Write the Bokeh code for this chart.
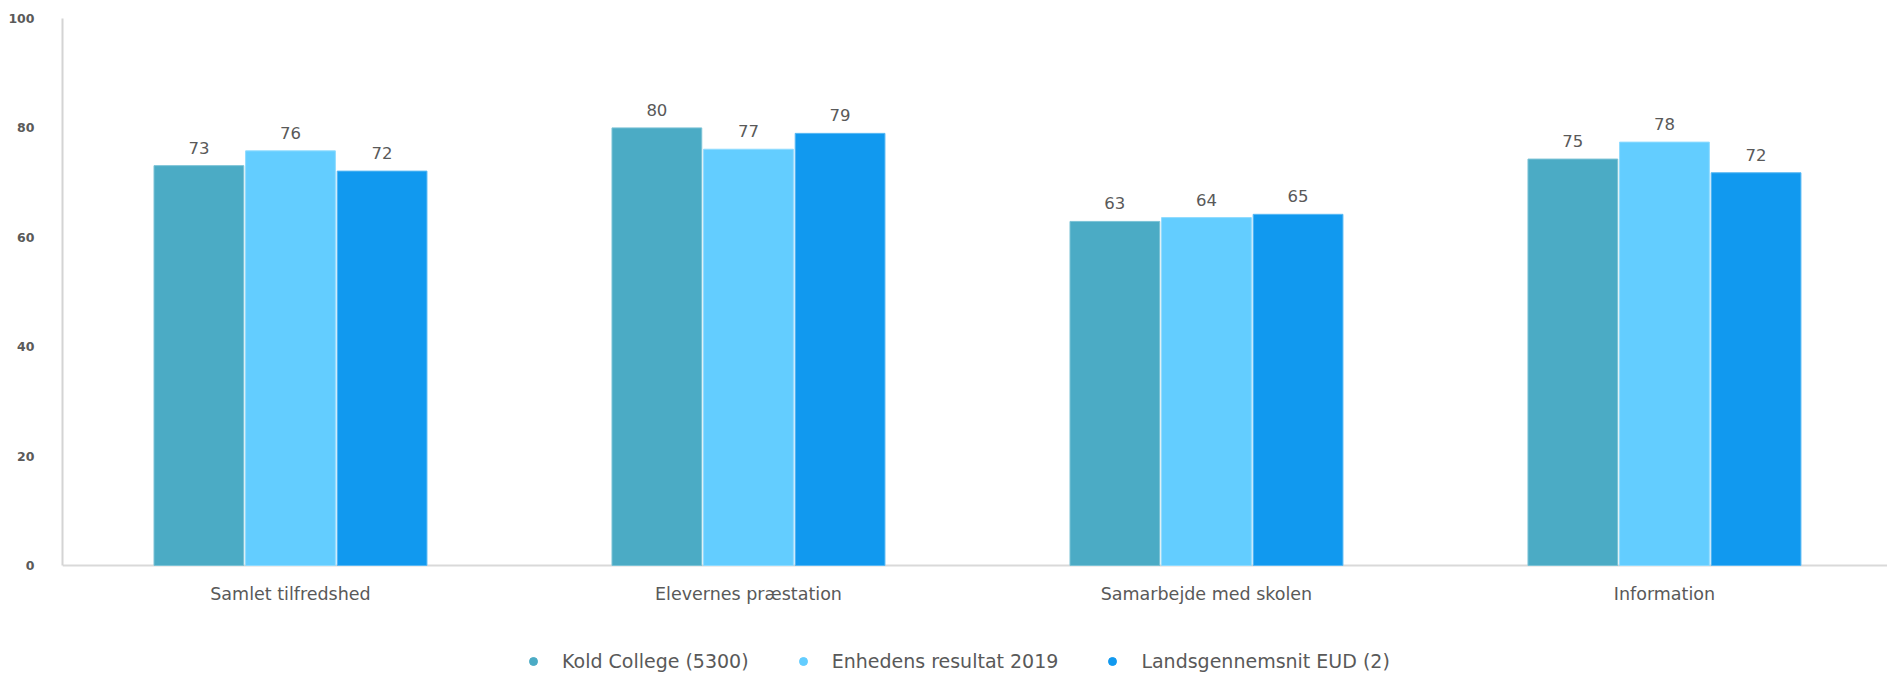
from bokeh.plotting import figure
from bokeh.models import (ColumnDataSource, Range1d, FixedTicker, Span, Legend,
                          LegendItem, LabelSet)
from bokeh.core.properties import value
from bokeh.transform import dodge
from bokeh.embed import file_html
from bokeh.resources import INLINE

categories = ["Samlet tilfredshed", "Elevernes præstation", "Samarbejde med skolen", "Information"]
series_names = ["Kold College (5300)", "Enhedens resultat 2019", "Landsgennemsnit EUD (2)"]
kold = [73.1, 80.0, 62.9, 74.3]
enhed = [75.8, 76.1, 63.6, 77.4]
lands = [72.1, 79.0, 64.2, 71.8]
kold_labels = ["73", "80", "63", "75"]
enhed_labels = ["76", "77", "64", "78"]
lands_labels = ["72", "79", "65", "72"]
y_ticks = [0, 20, 40, 60, 80, 100]

colors = ["#4BABC5", "#63CDFF", "#1199EF"]
outlines = ["#7CC3D6", "#8FDBFF", "#5AB9F4"]

p = figure(width=1887, height=674, output_backend="svg", toolbar_location=None,
           x_range=Range1d(-0.4978, 3.487), y_range=Range1d(-19.93, 100),
           min_border_left=62, min_border_right=0, min_border_top=18, min_border_bottom=0)
p.outline_line_color = None
p.xgrid.visible = False
p.ygrid.visible = False
p.xaxis.visible = False

xs = list(range(len(categories)))
source = ColumnDataSource(dict(x=xs, cat=categories, base=[0] * len(xs),
                               kold=kold, enhed=enhed, lands=lands,
                               kold_l=kold_labels, enhed_l=enhed_labels, lands_l=lands_labels))

base = Span(location=0, dimension="width", line_color="#D9D9D9", line_width=2, level="underlay")
p.add_layout(base)

label_font = value("DejaVu Sans")
legend_items = []
for name, col, lab, off, c, oc in [(series_names[0], "kold", "kold_l", -0.2, colors[0], outlines[0]),
                                    (series_names[1], "enhed", "enhed_l", 0.0, colors[1], outlines[1]),
                                    (series_names[2], "lands", "lands_l", 0.2, colors[2], outlines[2])]:
    # legend marker proxy (sits hidden underneath the bars of the same colour)
    dot = p.scatter(x=dodge("x", off, range=p.x_range), y=dodge(col, -5, range=p.y_range),
                    source=source, marker="circle", size=6, fill_color=c, line_color=c,
                    level="underlay")
    legend_items.append(LegendItem(label=name, renderers=[dot]))
    p.vbar(x=dodge("x", off, range=p.x_range), top=col, bottom=0, width=0.196, source=source,
           fill_color=c, line_color=oc, line_width=1)
    p.add_layout(LabelSet(x=dodge("x", off, range=p.x_range), y=col, text=lab, source=source,
                          text_align="center", text_baseline="alphabetic", y_offset=12,
                          text_font=label_font, text_font_size="16.5px", text_color="#595959"))

# category labels below the baseline
p.add_layout(LabelSet(x="x", y="base", text="cat", source=source,
                      text_align="center", text_baseline="middle", y_offset=-29,
                      text_font=label_font, text_font_size="17.5px", text_color="#595959"))

# y axis
p.yaxis.bounds = (0, 100)
p.yaxis.ticker = FixedTicker(ticks=y_ticks)
p.yaxis.axis_line_color = "#D4D4D4"
p.yaxis.axis_line_width = 2
p.yaxis.major_tick_line_color = None
p.yaxis.minor_tick_line_color = None
p.yaxis.major_tick_out = 0
p.yaxis.major_tick_in = 0
p.yaxis.major_label_standoff = 28
p.yaxis.major_label_text_font = "DejaVu Sans"
p.yaxis.major_label_text_font_style = "bold"
p.yaxis.major_label_text_font_size = "12.5px"
p.yaxis.major_label_text_color = "#5A5A5A"

# legend
legend = Legend(items=legend_items, orientation="horizontal", location=(461, 2),
                glyph_width=20, glyph_height=20, label_height=20, label_standoff=19,
                spacing=44, padding=0, margin=0, border_line_color=None,
                background_fill_alpha=0,
                label_text_font="DejaVu Sans", label_text_font_size="19px",
                label_text_color="#595959")
p.add_layout(legend, "center")

open("out.html", "w").write(file_html(p, INLINE))
